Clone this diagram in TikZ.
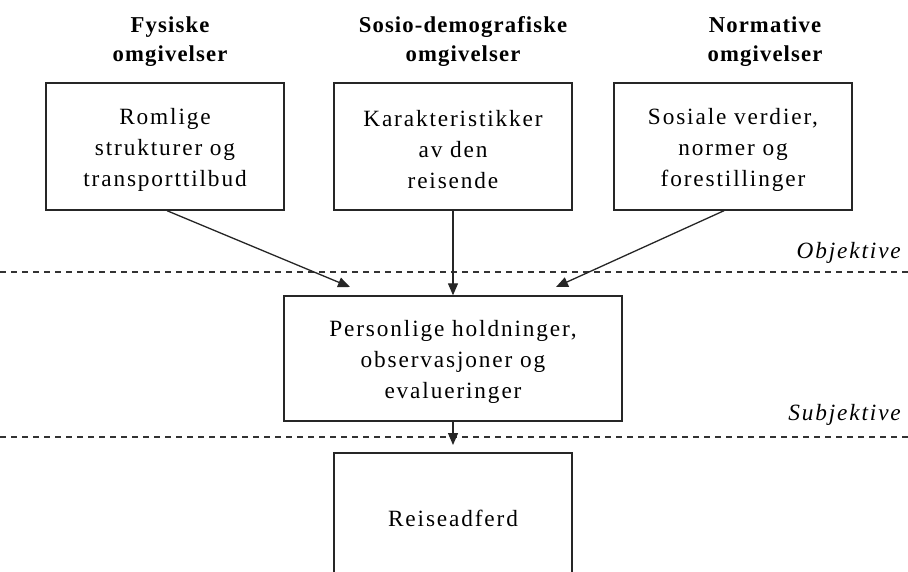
\documentclass[tikz,border=0pt]{standalone}
\usepackage{fontspec}
\setmainfont{Liberation Serif}
\newfontfamily\bodyf[LetterSpace=8]{Liberation Serif}
\newfontfamily\headf[LetterSpace=5]{Liberation Serif}
\usetikzlibrary{arrows.meta,calc}
\newcommand{\tstrut}{\rule{0pt}{23pt}}
\begin{document}
\begin{tikzpicture}[x=1pt,y=-1pt,
  box/.style={draw=black!85, line width=1.4pt, align=center, inner sep=0pt,
              font=\bodyf\fontsize{23.3}{31}\selectfont},
  head/.style={align=center, inner sep=0pt, font=\headf\bfseries\fontsize{22.7}{29}\selectfont},
  lbl/.style={inner sep=0pt, font=\bodyf\itshape\fontsize{23.3}{28}\selectfont, anchor=base east},
  arr/.style={draw=black!85, line width=1.3pt, -{Triangle[length=12pt,width=10pt]}},
  sep/.style={draw=black!80, line width=1.2pt, dash pattern=on 6pt off 5pt}]
\useasboundingbox (0,0) rectangle (908,572);
\fill[white] (0,0) rectangle (908,572);

% headers
\node[head] (h1) at (170,42) {Fysiske\\omgivelser};
\node[head] (h2) at (463,42) {Sosio-demografiske\\omgivelser};
\node[head] (h3) at (765,42) {Normative\\omgivelser};

% top boxes
\node[box, minimum width=238pt, minimum height=127pt] (b1) at (165,146.5)
  {\tstrut Romlige\\strukturer og\\transporttilbud};
\node[box, minimum width=238pt, minimum height=127pt] (b2) at (453,146.5)
  {\tstrut Karakteristikker\\av den\\reisende};
\node[box, minimum width=238pt, minimum height=127pt] (b3) at (733,146.5)
  {\tstrut Sosiale verdier,\\normer og\\forestillinger};

% middle box
\node[box, minimum width=338pt, minimum height=125pt] (mid) at (453,358.5)
  {\tstrut Personlige holdninger,\\observasjoner og\\evalueringer};

% bottom box (cut off by the lower edge)
\node[box, minimum width=238pt, minimum height=130pt] (bot) at (453,518) {Reiseadferd};

% dashed separators
\coordinate (dl1) at (0,272);
\coordinate (dr1) at (908,272);
\coordinate (dl2) at (0,437);
\coordinate (dr2) at (908,437);
\draw[sep] (dl1) -- (dr1);
\draw[sep] (dl2) -- (dr2);

\node[lbl] (obj) at (901,259) {Objektive};
\node[lbl] (subj) at (901,420) {Subjektive};

% arrows
\coordinate (t1) at (350,287);
\coordinate (t3) at (556,287);
\coordinate (t4) at (453,445);
\draw[arr] ($(b1.south)+(2,0)$) -- (t1);
\draw[arr] (b2.south) -- (mid.north);
\draw[arr] ($(b3.south)+(-9,0)$) -- (t3);
\draw[arr] (mid.south) -- (t4);
\end{tikzpicture}
\end{document}
